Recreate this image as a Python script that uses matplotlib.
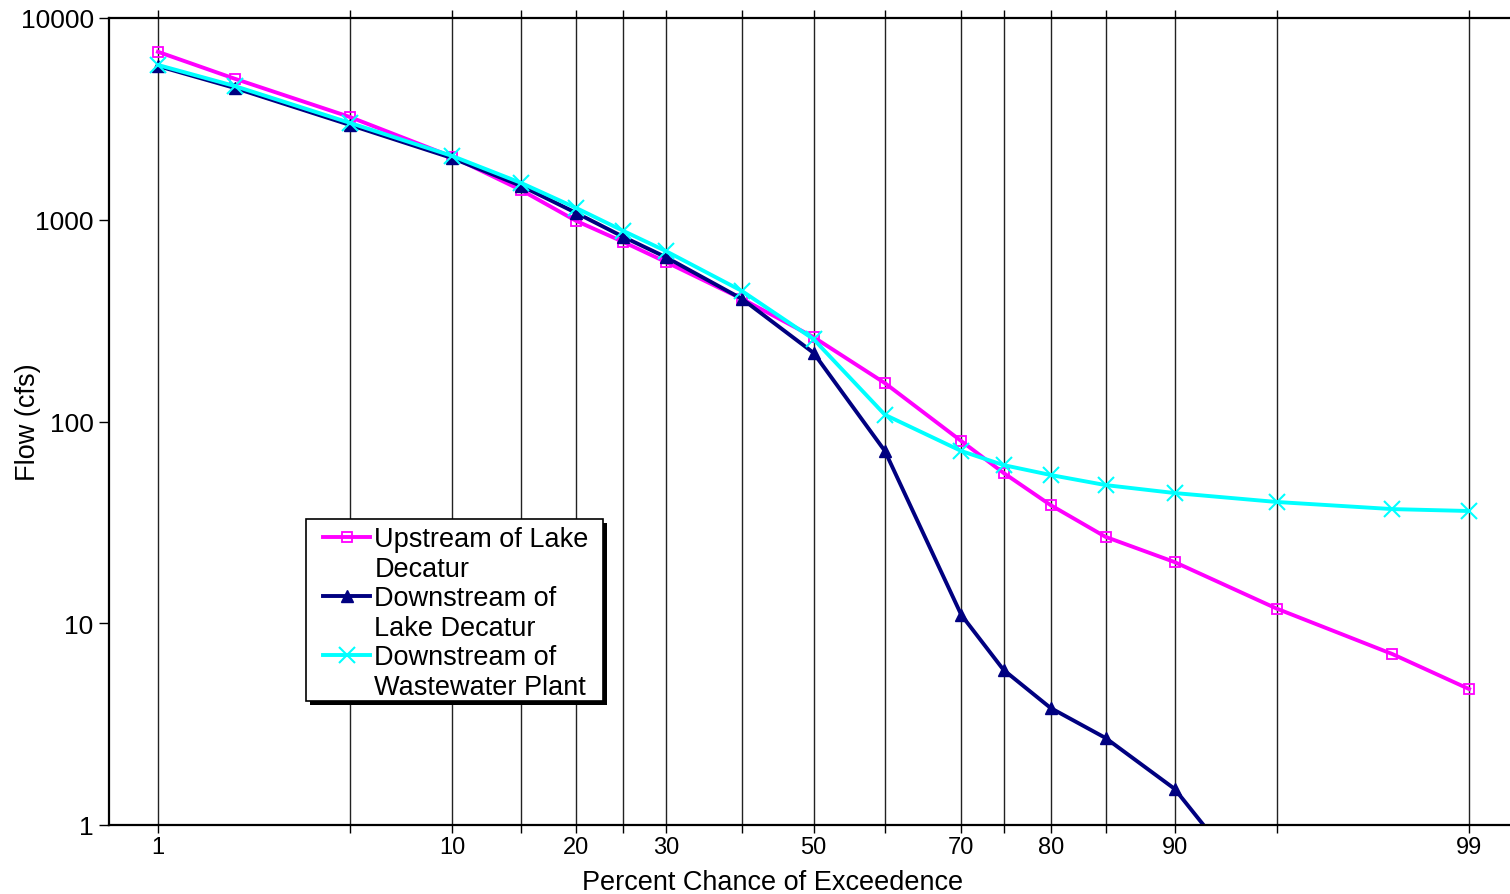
import math
import numpy as np
import matplotlib
matplotlib.use("Agg")
import matplotlib.pyplot as plt
from matplotlib.lines import Line2D
from matplotlib.patches import Rectangle
from matplotlib.transforms import IdentityTransform

# Flow-duration data: percent chance of exceedence vs. flow (cfs)
pct = [1, 2, 5, 10, 15, 20, 25, 30, 40, 50, 60, 70, 75, 80, 85, 90, 95, 98, 99]
upstream = [6800, 5000, 3230, 2050, 1400, 986, 776, 618, 405, 262, 155, 80,
            55.6, 38.5, 26.8, 20.1, 11.8, 7.04, 4.72]
pct_down = [1, 2, 5, 10, 15, 20, 25, 30, 40, 50, 60, 70, 75, 80, 85, 90, 95]
downstream_lake = [5780, 4500, 2950, 2020, 1470, 1080, 822, 653, 405, 219,
                   71.4, 11.0, 5.87, 3.80, 2.70, 1.51, 0.35]
downstream_wwtp = [5850, 4600, 3020, 2070, 1520, 1143, 880, 700, 443, 256,
                   108, 71.4, 60.8, 54.3, 48.4, 44.2, 39.9, 36.8, 36.0]

grid_pct = [1, 5, 10, 15, 20, 25, 30, 40, 50, 60, 70, 75, 80, 85, 90, 95, 99]
label_pct = [1, 10, 20, 30, 50, 70, 80, 90, 99]
y_ticks = [1, 10, 100, 1000, 10000]


# Normal-probability axis: percent -> standard normal quantile
def _ppf(q):
    a = [-3.969683028665376e+01, 2.209460984245205e+02, -2.759285104469687e+02,
         1.383577518672690e+02, -3.066479806614716e+01, 2.506628277459239e+00]
    b = [-5.447609879822406e+01, 1.615858368580409e+02, -1.556989798598866e+02,
         6.680131188771972e+01, -1.328068155288572e+01]
    c = [-7.784894002430293e-03, -3.223964580411365e-01, -2.400758277161838e+00,
         -2.549732539343734e+00, 4.374664141464968e+00, 2.938163982698783e+00]
    d = [7.784695709041462e-03, 3.224671290700398e-01, 2.445134137142996e+00,
         3.754408661907416e+00]
    q = np.clip(np.asarray(q, dtype=float), 1e-12, 1 - 1e-12)
    out = np.empty_like(q)
    plow = 0.02425
    lo = q < plow
    hi = q > 1 - plow
    mid = ~(lo | hi)
    if np.any(lo):
        r = np.sqrt(-2 * np.log(q[lo]))
        out[lo] = (((((c[0]*r+c[1])*r+c[2])*r+c[3])*r+c[4])*r+c[5]) / \
                  ((((d[0]*r+d[1])*r+d[2])*r+d[3])*r+1)
    if np.any(hi):
        r = np.sqrt(-2 * np.log(1 - q[hi]))
        out[hi] = -(((((c[0]*r+c[1])*r+c[2])*r+c[3])*r+c[4])*r+c[5]) / \
                   ((((d[0]*r+d[1])*r+d[2])*r+d[3])*r+1)
    if np.any(mid):
        r = q[mid] - 0.5
        s = r * r
        out[mid] = (((((a[0]*s+a[1])*s+a[2])*s+a[3])*s+a[4])*s+a[5])*r / \
                   (((((b[0]*s+b[1])*s+b[2])*s+b[3])*s+b[4])*s+1)
    return out


_erf = np.vectorize(math.erf, otypes=[float])


def forward(p):
    return _ppf(np.asarray(p, dtype=float) / 100.0)


def inverse(z):
    return 100.0 * 0.5 * (1.0 + _erf(np.asarray(z, dtype=float) / math.sqrt(2)))


plt.rcParams['font.family'] = ['Liberation Sans', 'DejaVu Sans']

W, H = 1510, 895
fig = plt.figure(figsize=(W / 100, H / 100), dpi=100)
ax = fig.add_axes([109 / W, (H - 826) / H, (1518 - 109) / W, (826 - 19) / H])

ax.set_xscale('function', functions=(forward, inverse))
ax.set_yscale('log')
ax.set_xlim(inverse(-2.5), inverse(2.5))
ax.set_ylim(1, 10000)

ax.plot(pct, upstream, color='#FF00FF', lw=2.8, marker='s', ms=7.5,
        mfc='none', mec='#FF00FF', mew=1.3, label='Upstream of Lake Decatur')
ax.plot(pct_down, downstream_lake, color='#000080', lw=2.8, marker='^', ms=9,
        mfc='#000080', mec='#000080', label='Downstream of Lake Decatur')
ax.plot(pct, downstream_wwtp, color='#00FFFF', lw=2.8, marker='x', ms=11,
        mew=1.5, label='Downstream of Wastewater Plant')

# Vertical probability grid, extending slightly past the frame like ticks
ax.set_xticks(grid_pct)
ax.set_xticklabels([str(p) if p in label_pct else '' for p in grid_pct])
ax.xaxis.grid(True, color='#222222', lw=1.0)
ax.tick_params(axis='x', which='both', direction='out', length=6, width=1.0,
               top=True, bottom=True, labelsize=17, pad=2)
ax.xaxis.set_minor_locator(matplotlib.ticker.NullLocator())

ax.set_yticks(y_ticks)
ax.set_yticklabels([str(v) for v in y_ticks])
ax.yaxis.set_minor_locator(matplotlib.ticker.NullLocator())
ax.tick_params(axis='y', which='major', direction='out', length=7, width=1.0,
               labelsize=19, pad=4)

for side in ('top', 'bottom', 'left'):
    ax.spines[side].set_linewidth(1.6)
ax.spines['right'].set_visible(False)

ax.set_xlabel('Percent Chance of Exceedence', fontsize=19.5)
ax.xaxis.set_label_coords((773 - 109) / (1518 - 109), -0.055)
ax.set_ylabel('Flow (cfs)', fontsize=19.5)
ax.yaxis.set_label_coords((41 - 109) / (1518 - 109), 0.5)

# Legend with the marker aligned to the first line of each wrapped label
handles = []
labels = []
blank = Line2D([], [], color='none')
for line, (l1, l2) in zip(ax.get_lines(),
                          [('Upstream of Lake', 'Decatur'),
                           ('Downstream of', 'Lake Decatur'),
                           ('Downstream of', 'Wastewater Plant')]):
    handles += [line, blank]
    labels += [l1, l2]

# Legend box (drop shadow + frame), in display pixels measured from the top
box_x0, box_y0, box_x1, box_y1 = 306, 520, 603, 702
shadow_off = 4
px = IdentityTransform()
ax.add_patch(Rectangle((box_x0 + shadow_off, H - box_y1 - shadow_off),
                       box_x1 - box_x0, box_y1 - box_y0, transform=px,
                       facecolor='black', edgecolor='none',
                       clip_on=False, zorder=4.3))
ax.add_patch(Rectangle((box_x0, H - box_y1), box_x1 - box_x0, box_y1 - box_y0,
                       transform=px, facecolor='white', edgecolor='black',
                       lw=1.2, clip_on=False, zorder=4.4))

leg = ax.legend(handles, labels, loc='upper left',
                bbox_to_anchor=(323 / W, 1 - 527 / H),
                bbox_transform=fig.transFigure,
                fontsize=19.5, labelspacing=0.13, handlelength=1.75,
                handletextpad=0.15, borderpad=0, borderaxespad=0,
                frameon=False)
leg.set_zorder(5)

fig.savefig('out.png', dpi=100)
